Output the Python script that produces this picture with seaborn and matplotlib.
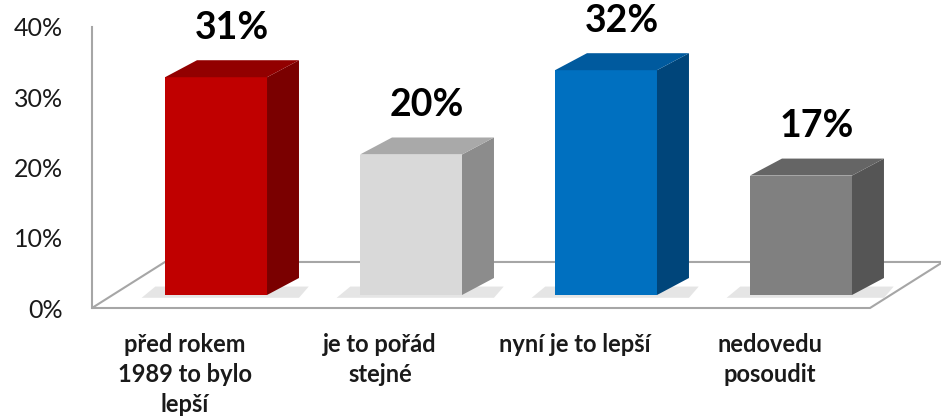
import matplotlib
matplotlib.use("Agg")
import matplotlib.pyplot as plt
import matplotlib.transforms as mtransforms
from matplotlib.patches import Polygon
import seaborn as sns

# %%
categories = ["před rokem\n1989 to bylo\nlepší", "je to pořád\nstejné", "nyní je to lepší", "nedovedu\nposoudit"]
values = [31, 20, 32, 17]
front_colors = ["#C00000", "#D9D9D9", "#0070C0", "#808080"]
side_colors = ["#7A0000", "#8C8C8C", "#00457A", "#555555"]
top_colors = ["#920000", "#A9A9A9", "#005A9E", "#656565"]
yticks = [0, 10, 20, 30, 40]
ytick_labels = [f"{t}%" for t in yticks]

# %%
sns.set_style("white")
plt.rcParams["font.family"] = ["Lato", "DejaVu Sans"]

W, H = 941, 418
fig = plt.figure(figsize=(W / 100, H / 100), dpi=100)
rect = [92 / W, 110 / H, (W - 92) / W, 281 / H]

# axis with the percent ticks (back wall)
ax_t = fig.add_axes(rect)
ax_t.set_ylim(0, 40)
ax_t.set_xlim(0, 1)
ax_t.set_yticks(yticks, ytick_labels)
ax_t.set_xticks([])
ax_t.tick_params(axis="y", length=0, pad=21, labelsize=18, labelcolor="#1a1a1a")
for s in ["top", "right", "bottom"]:
    ax_t.spines[s].set_visible(False)
ax_t.spines["left"].set_color("#a6a6a6")
ax_t.spines["left"].set_linewidth(1.5)

# axis with the bars, baseline a bit above the front floor edge
base = 13 / 7.025
ax = fig.add_axes(rect)
ax.patch.set_alpha(0)
dx, dy = 0.164, 2.42

sns.barplot(x=categories, y=values, hue=categories, palette=front_colors, legend=False,
            width=0.523, saturation=1, linewidth=0, edgecolor="none", ax=ax, zorder=3)
bars = list(ax.patches)

ax.set_xlim(-0.636, 3.718)
ax.set_ylim(-base, 40 - base)

# floor
floor = Polygon([(-0.636, -base), (3.354, -base), (3.728, 4.7), (-0.262, 4.7)],
                closed=True, facecolor="white", edgecolor="#a6a6a6", lw=1.5, zorder=0, clip_on=False)
ax.add_patch(floor)

for p, sc, tc, v in zip(bars, side_colors, top_colors, values):
    x0, w, h = p.get_x(), p.get_width(), p.get_height()
    shadow = Polygon([(x0 - 0.12, -0.4), (x0 + w + dx, -0.4), (x0 + w + dx + 0.05, 1.2), (x0 - 0.05, 1.2)],
                     closed=True, facecolor="#d4d4d4", edgecolor="none", alpha=0.6, zorder=1)
    ax.add_patch(shadow)
    side = Polygon([(x0 + w, 0), (x0 + w + dx, dy), (x0 + w + dx, h + dy), (x0 + w, h)],
                   closed=True, facecolor=sc, edgecolor="none", zorder=3)
    top = Polygon([(x0, h), (x0 + dx, h + dy), (x0 + w + dx, h + dy), (x0 + w, h)],
                  closed=True, facecolor=tc, edgecolor="none", zorder=3)
    ax.add_patch(side)
    ax.add_patch(top)
    ax.annotate(f"{v}%", (x0 + (w + dx) / 2, h + dy), xytext=(0, 11), textcoords="offset points",
                ha="center", va="bottom", fontsize=27, fontweight="bold", color="black")

ax.set_yticks([])
ax.set_xticks(range(len(categories)), categories)
ax.tick_params(axis="x", length=0, pad=18, labelsize=17, labelcolor="#1a1a1a")
shift = mtransforms.ScaledTranslation(-0.31, 0, fig.dpi_scale_trans)
for lab in ax.get_xticklabels():
    lab.set_fontweight("bold")
    lab.set_linespacing(1.38)
    lab.set_transform(lab.get_transform() + shift)
for s in ax.spines.values():
    s.set_visible(False)
ax.set_xlabel("")
ax.set_ylabel("")

fig.savefig("out.png", dpi=100)
